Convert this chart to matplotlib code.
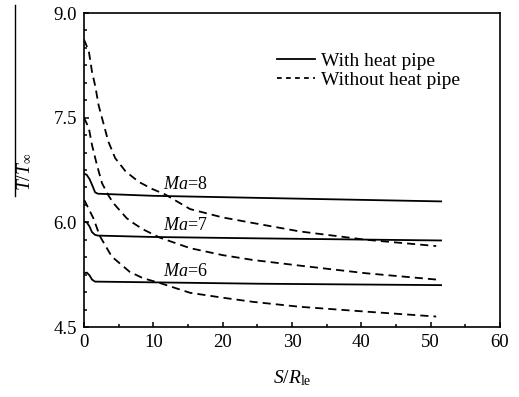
import matplotlib
matplotlib.use("Agg")
import matplotlib.pyplot as plt
from matplotlib.lines import Line2D
from matplotlib.ticker import MultipleLocator, FormatStrFormatter

plt.rcParams['font.family'] = ['Liberation Serif', 'DejaVu Serif']
plt.rcParams['mathtext.fontset'] = 'custom'
plt.rcParams['mathtext.rm'] = 'Liberation Serif'
plt.rcParams['mathtext.it'] = 'Liberation Serif:italic'

# ---- data ----
s_with = [0.0, 0.4, 0.8, 1.15, 1.6, 2.0, 10.0, 25.4, 51.5]
T_with_ma8 = [6.70, 6.68, 6.62, 6.54, 6.43, 6.41, 6.38, 6.35, 6.30]
T_with_ma7 = [6.01, 6.00, 5.94, 5.86, 5.82, 5.81, 5.79, 5.77, 5.74]
T_with_ma6 = [5.27, 5.28, 5.24, 5.18, 5.15, 5.15, 5.14, 5.12, 5.10]

s_wo_ma8 = [0.0, 0.7, 1.15, 1.65, 2.1, 2.8, 3.5, 4.5, 6.0, 7.9, 9.8, 11.7, 15.3, 20.0, 24.4, 31.1, 40.7, 50.8]
T_wo_ma8 = [8.62, 8.45, 8.16, 7.94, 7.68, 7.42, 7.16, 6.92, 6.73, 6.58, 6.48, 6.40, 6.19, 6.07, 5.99, 5.87, 5.75, 5.66]

s_wo_ma7 = [0.0, 0.7, 1.15, 1.87, 2.6, 3.5, 4.2, 4.9, 6.15, 7.1, 8.5, 10.95, 15.3, 20.0, 24.4, 31.1, 40.7, 50.8]
T_wo_ma7 = [7.50, 7.35, 7.11, 6.82, 6.56, 6.39, 6.28, 6.20, 6.06, 5.99, 5.90, 5.78, 5.63, 5.53, 5.46, 5.38, 5.27, 5.18]

s_wo_ma6 = [0.0, 0.14, 1.35, 2.3, 4.0, 6.6, 8.5, 10.95, 15.3, 20.0, 24.4, 31.1, 40.7, 50.8]
T_wo_ma6 = [6.32, 6.30, 6.06, 5.80, 5.51, 5.29, 5.20, 5.13, 4.99, 4.92, 4.86, 4.79, 4.72, 4.65]

ma_labels = ['$Ma$=8', '$Ma$=7', '$Ma$=6']
ma_label_s = [11.4, 11.4, 11.4]
ma_label_T = [6.54, 5.96, 5.29]

legend_labels = ['With heat pipe', 'Without heat pipe']

# ---- figure ----
W, H = 519, 397
fig = plt.figure(figsize=(W / 100, H / 100), dpi=100)
ax = fig.add_axes([84 / W, 1 - 327 / H, (500 - 84) / W, (327 - 13) / H])

lw = 1.3
dash = (4.5, 2.8)
for T in (T_with_ma8, T_with_ma7, T_with_ma6):
    ax.plot(s_with, T, color='black', lw=lw, solid_joinstyle='round')
for s, T in ((s_wo_ma8, T_wo_ma8), (s_wo_ma7, T_wo_ma7), (s_wo_ma6, T_wo_ma6)):
    ax.plot(s, T, color='black', lw=lw, dashes=dash)

for lab, xs, ys in zip(ma_labels, ma_label_s, ma_label_T):
    ax.text(xs, ys, lab, fontsize=13, ha='left', va='center')

ax.set_xlim(0, 60)
ax.set_ylim(4.5, 9.0)
ax.xaxis.set_major_locator(MultipleLocator(10))
ax.xaxis.set_minor_locator(MultipleLocator(5))
ax.yaxis.set_major_locator(MultipleLocator(1.5))
ax.yaxis.set_minor_locator(MultipleLocator(0.25))
ax.yaxis.set_major_formatter(FormatStrFormatter('%.1f'))
ax.tick_params(which='both', direction='in', top=False, right=False, labelsize=13.5, width=1.1)
ax.tick_params(which='major', length=3.8)
ax.tick_params(which='minor', length=2.3)
ax.tick_params(axis='y', pad=5)
ax.tick_params(axis='x', pad=5)
for sp in ax.spines.values():
    sp.set_linewidth(1.2)

handles = [Line2D([], [], color='black', lw=lw),
           Line2D([], [], color='black', lw=lw, dashes=(2.6, 2.4))]
ax.legend(handles, legend_labels, loc='upper left', frameon=False, fontsize=14,
          bbox_to_anchor=(277 / W, 1 - 52 / H), bbox_transform=fig.transFigure,
          borderpad=0, borderaxespad=0, handlelength=1.96, handletextpad=0.32,
          labelspacing=0.1)

fig.text(25 / W, 1 - 172 / H, r'$T/T_{\infty}$', rotation=90, fontsize=14,
         ha='center', va='center')
fig.text(292 / W, 1 - 378 / H, r'$S/R_{\mathrm{le}}$', fontsize=14,
         ha='center', va='center')
fig.add_artist(Line2D([15 / W, 15 / W], [1 - 5 / H, 1 - 196 / H],
                      color='black', lw=1.0, transform=fig.transFigure))

fig.savefig('out.png', dpi=100)
